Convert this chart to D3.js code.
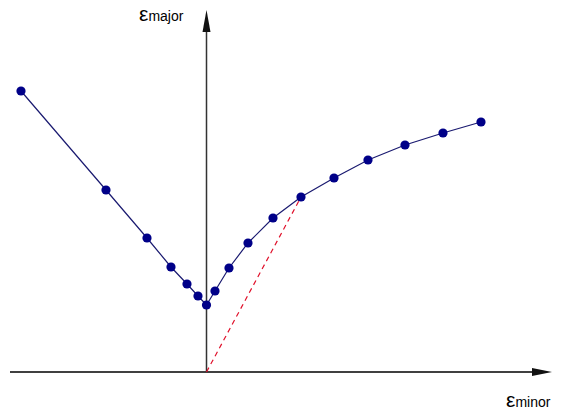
<!DOCTYPE html>
<html><head><meta charset="utf-8">
<script src="https://cdn.jsdelivr.net/npm/d3@7"></script>
<style>body{margin:0;background:#fff}svg{display:block}</style>
</head><body>
<svg id="c" width="564" height="420"></svg>
<script>
const minorStrain = [-0.371,-0.201,-0.119,-0.071,-0.039,-0.017,0,0.017,0.045,0.083,0.133,0.189,0.255,0.323,0.397,0.473,0.549];
const majorStrain = [0.562,0.364,0.268,0.210,0.176,0.152,0.134,0.162,0.208,0.258,0.308,0.350,0.388,0.424,0.454,0.478,0.500];
const planeStrainLine = [[0,0],[0.189,0.350]];
const axisLabels = {x:"minor", y:"major"};

const svg = d3.select("#c");
const x = d3.scaleLinear().domain([-0.393,0.691]).range([10,552]);
const y = d3.scaleLinear().domain([0,0.724]).range([372,10]);

// axes
svg.append("line").attr("x1",x(-0.393)).attr("x2",x(0.691)-16).attr("y1",y(0)).attr("y2",y(0)).attr("stroke","#000").attr("stroke-width",1.5);
svg.append("path").attr("d",`M${x(0.691)},${y(0)} L${x(0.691)-20},${y(0)-4} L${x(0.691)-20},${y(0)+4} Z`).attr("fill","#111");
svg.append("line").attr("x1",x(0)).attr("x2",x(0)).attr("y1",y(0)).attr("y2",y(0.724)+16).attr("stroke","#333").attr("stroke-width",1.5);
svg.append("path").attr("d",`M${x(0)},${y(0.724)} L${x(0)-4},${y(0.724)+22} L${x(0)+4},${y(0.724)+22} Z`).attr("fill","#111");

// red dashed
svg.append("line").attr("x1",x(planeStrainLine[0][0])).attr("y1",y(planeStrainLine[0][1]))
  .attr("x2",x(planeStrainLine[1][0])).attr("y2",y(planeStrainLine[1][1]))
  .attr("stroke","#e0102a").attr("stroke-width",1.2).attr("stroke-dasharray","5,4");

const pts = minorStrain.map((v,i)=>[v,majorStrain[i]]);
svg.append("path").attr("d",d3.line().x(d=>x(d[0])).y(d=>y(d[1]))(pts))
  .attr("fill","none").attr("stroke","#1a1a70").attr("stroke-width",1.2);
svg.selectAll("circle").data(pts).join("circle").attr("cx",d=>x(d[0])).attr("cy",d=>y(d[1])).attr("r",4.6).attr("fill","#000088");

function lab(px,py,sub){
  const t = svg.append("text").attr("x",px).attr("y",py).attr("font-family","Liberation Sans, Arial, sans-serif").attr("fill","#000");
  t.append("tspan").text("ε").attr("font-size",21);
  t.append("tspan").text(sub).attr("font-size",14).attr("dy",0);
}
lab(139,21,axisLabels.y);
lab(506,407,axisLabels.x);
</script>
</body></html>
